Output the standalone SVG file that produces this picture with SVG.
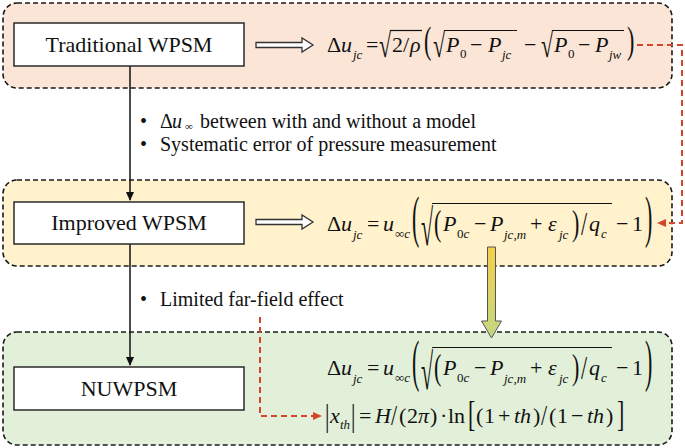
<svg xmlns="http://www.w3.org/2000/svg" width="685" height="448" viewBox="0 0 685 448">
<style>
.panel{stroke:#1a1a1a;stroke-width:1.6;stroke-dasharray:5 3}
.box{fill:#fff;stroke:#2a2a2a;stroke-width:1.5}
.lbl{font-family:"Liberation Serif",serif;font-size:22px;text-anchor:middle;fill:#111}
.m{font-family:"Liberation Serif",serif;font-size:22px;fill:#111}
.i{font-style:italic}
.s{font-size:13px}
.t{font-family:"Liberation Serif",serif;font-size:20px;fill:#111}
.ts{font-family:"Liberation Serif",serif;font-size:11px;fill:#111}
.bar{stroke:#111;stroke-width:1.2}
.red{fill:none;stroke:#d4462b;stroke-width:2;stroke-dasharray:6 4}
.blk{fill:none;stroke:#111;stroke-width:1.5}
.hollow{fill:#fff;stroke:#333;stroke-width:1.3}
</style>
<defs>
<marker id="ab" markerWidth="10" markerHeight="10" refX="8" refY="5" orient="auto" markerUnits="userSpaceOnUse"><path d="M0,1 L9,5 L0,9 Z" fill="#111"/></marker>
<marker id="ar" markerWidth="10" markerHeight="10" refX="8" refY="5" orient="auto" markerUnits="userSpaceOnUse"><path d="M0,1 L9,5 L0,9 Z" fill="#d4462b"/></marker>
<linearGradient id="yg" x1="0" y1="0" x2="0" y2="1"><stop offset="0" stop-color="#f6cf48"/><stop offset="1" stop-color="#c3d784"/></linearGradient>
</defs>

<g id="panels">
<rect x="3" y="3" width="669" height="85" rx="14" fill="#fbe5d6" class="panel"/>
<rect x="3" y="180" width="669" height="86" rx="14" fill="#fff2cc" class="panel"/>
<rect x="3" y="332" width="669" height="113" rx="14" fill="#e2f0d9" class="panel"/>
</g>

<g id="connectors">
<path d="M130,66 V200" class="blk" marker-end="url(#ab)"/>
<path d="M130,244 V365" class="blk" marker-end="url(#ab)"/>
<path d="M637,45 H682 V223 H658" class="red" marker-end="url(#ar)"/>
<path d="M260,317 V416 H321" class="red" marker-end="url(#ar)"/>
<polygon points="256,42.5 302,42.5 302,38 313,45 302,52 302,47.5 256,47.5" class="hollow"/>
<polygon points="256,219.5 302,219.5 302,215 313,222 302,229 302,224.5 256,224.5" class="hollow"/>
<polygon points="487.5,247 495.5,247 495.5,321 501.5,321 491.5,338 481.5,321 487.5,321" fill="url(#yg)" stroke="#555" stroke-width="1"/>
</g>

<g id="traditional">
<rect x="14" y="23" width="230" height="43" class="box"/>
<text x="129" y="52" class="lbl">Traditional WPSM</text>
</g>
<g id="improved">
<rect x="14" y="202" width="230" height="42" class="box"/>
<text x="129" y="230" class="lbl">Improved WPSM</text>
</g>
<g id="nuwpsm">
<rect x="14" y="367" width="230" height="43" class="box"/>
<text x="129" y="396" class="lbl">NUWPSM</text>
</g>

<g id="notes">
<text x="140" y="128" class="t">•</text>
<text x="160" y="128" class="t">Δ</text>
<text x="172" y="128" class="t i">u</text>
<text x="185" y="130" class="ts">∞</text>
<text x="200" y="128" class="t">between with and without a model</text>
<text x="140" y="151" class="t">•</text>
<text x="160" y="151" class="t">Systematic error of pressure measurement</text>
<text x="140" y="306" class="t">•</text>
<text x="160" y="306" class="t">Limited far-field effect</text>
</g>

<g id="eq1" class="m">
<text x="327" y="52">Δ</text>
<text x="341" y="52" class="i">u</text>
<text x="353" y="59" class="i s">jc</text>
<text x="366" y="52">=</text>
<text transform="translate(379,57) scale(1,1.55)">√</text>
<line x1="390" y1="30.5" x2="422" y2="30.5" class="bar"/>
<text x="392" y="52">2</text>
<text x="403" y="52">/</text>
<text x="410" y="52" class="i">ρ</text>
<text transform="translate(424,53) scale(1,1.7)">(</text>
<text transform="translate(433,57) scale(1,1.55)">√</text>
<line x1="444" y1="30.5" x2="517" y2="30.5" class="bar"/>
<text x="446" y="52" class="i">P</text>
<text x="460" y="58" class="s">0</text>
<text x="470" y="52">−</text>
<text x="488" y="52" class="i">P</text>
<text x="502" y="59" class="i s">jc</text>
<text x="524" y="52">−</text>
<text transform="translate(541,57) scale(1,1.55)">√</text>
<line x1="552" y1="30.5" x2="624" y2="30.5" class="bar"/>
<text x="554" y="52" class="i">P</text>
<text x="568" y="58" class="s">0</text>
<text x="578" y="52">−</text>
<text x="595" y="52" class="i">P</text>
<text x="609" y="59" class="i s">jw</text>
<text transform="translate(627,53) scale(1,1.7)">)</text>
</g>

<g id="eq2" class="m">
<text x="327" y="231">Δ</text>
<text x="341" y="231" class="i">u</text>
<text x="353" y="239" class="i s">jc</text>
<text x="367" y="231">=</text>
<text x="383" y="231" class="i">u</text>
<text x="395" y="238" class="s">∞<tspan class="i">c</tspan></text>
<text transform="translate(412,236) scale(1,2.55)">(</text>
<text transform="translate(421,245) scale(1,2.3)">√</text>
<line x1="432" y1="203.5" x2="612" y2="203.5" class="bar"/>
<text transform="translate(434,235) scale(1,1.6)">(</text>
<text x="443" y="231" class="i">P</text>
<text x="457" y="238" class="s">0<tspan class="i">c</tspan></text>
<text x="474" y="231">−</text>
<text x="490" y="231" class="i">P</text>
<text x="504" y="239" class="i s">jc,m</text>
<text x="530" y="231">+</text>
<text x="548" y="231" class="i">ε</text>
<text x="559" y="239" class="i s">jc</text>
<text transform="translate(572,235) scale(1,1.6)">)</text>
<text transform="translate(581,235) scale(1,1.5)">/</text>
<text x="589" y="231" class="i">q</text>
<text x="601" y="238" class="i s">c</text>
<text x="616" y="231">−</text>
<text x="632" y="231">1</text>
<text transform="translate(645,236) scale(1,2.55)">)</text>
</g>

<g id="eq3" class="m" transform="translate(0,144)">
<text x="327" y="231">Δ</text>
<text x="341" y="231" class="i">u</text>
<text x="353" y="239" class="i s">jc</text>
<text x="367" y="231">=</text>
<text x="383" y="231" class="i">u</text>
<text x="395" y="238" class="s">∞<tspan class="i">c</tspan></text>
<text transform="translate(412,236) scale(1,2.55)">(</text>
<text transform="translate(421,245) scale(1,2.3)">√</text>
<line x1="432" y1="203.5" x2="612" y2="203.5" class="bar"/>
<text transform="translate(434,235) scale(1,1.6)">(</text>
<text x="443" y="231" class="i">P</text>
<text x="457" y="238" class="s">0<tspan class="i">c</tspan></text>
<text x="474" y="231">−</text>
<text x="490" y="231" class="i">P</text>
<text x="504" y="239" class="i s">jc,m</text>
<text x="530" y="231">+</text>
<text x="548" y="231" class="i">ε</text>
<text x="559" y="239" class="i s">jc</text>
<text transform="translate(572,235) scale(1,1.6)">)</text>
<text transform="translate(581,235) scale(1,1.5)">/</text>
<text x="589" y="231" class="i">q</text>
<text x="601" y="238" class="i s">c</text>
<text x="616" y="231">−</text>
<text x="632" y="231">1</text>
<text transform="translate(645,236) scale(1,2.55)">)</text>
</g>

<g id="eq4" class="m">
<text transform="translate(325,426) scale(1,1.4)">|</text>
<text x="330" y="423" class="i">x</text>
<text x="340" y="429" class="i s">th</text>
<text transform="translate(351,426) scale(1,1.4)">|</text>
<text x="359" y="423">=</text>
<text x="375" y="423" class="i">H</text>
<text transform="translate(391,425) scale(1,1.3)">/</text>
<text x="399" y="423">(</text>
<text x="407" y="423">2</text>
<text x="418" y="423" class="i">π</text>
<text x="430" y="423">)</text>
<text x="440" y="423">·</text>
<text x="448" y="423">ln</text>
<text transform="translate(468,426) scale(1,1.65)">[</text>
<text x="476" y="423">(</text>
<text x="484" y="423">1</text>
<text x="498" y="423">+</text>
<text x="514" y="423" class="i">th</text>
<text x="533" y="423">)</text>
<text transform="translate(541,425) scale(1,1.3)">/</text>
<text x="549" y="423">(</text>
<text x="557" y="423">1</text>
<text x="571" y="423">−</text>
<text x="587" y="423" class="i">th</text>
<text x="606" y="423">)</text>
<text transform="translate(617,426) scale(1,1.65)">]</text>
</g>
</svg>
